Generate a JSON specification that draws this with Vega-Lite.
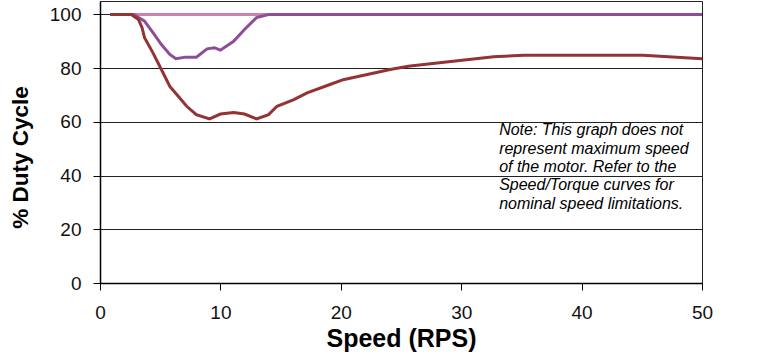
{
  "$schema": "https://vega.github.io/schema/vega-lite/v6.json",
  "width": 602,
  "height": 282,
  "autosize": {"type": "none"},
  "padding": {"left": 100, "top": 1, "right": 69, "bottom": 72},
  "background": "white",
  "config": {
    "view": {"stroke": "#222", "strokeWidth": 1},
    "font": "Liberation Sans"
  },
  "datasets": {
    "curves": [
      {"series": "A", "speed": 0.85, "duty": 100},
      {"series": "A", "speed": 50, "duty": 100},
      {"series": "B", "speed": 0.85, "duty": 100},
      {"series": "B", "speed": 2.8, "duty": 100},
      {"series": "B", "speed": 3.7, "duty": 97.5},
      {"series": "B", "speed": 4.4, "duty": 93.2},
      {"series": "B", "speed": 5.1, "duty": 88.8},
      {"series": "B", "speed": 5.8, "duty": 85.1},
      {"series": "B", "speed": 6.3, "duty": 83.5},
      {"series": "B", "speed": 7.1, "duty": 84.1},
      {"series": "B", "speed": 8.0, "duty": 84.1},
      {"series": "B", "speed": 8.9, "duty": 87.2},
      {"series": "B", "speed": 9.5, "duty": 87.6},
      {"series": "B", "speed": 10.0, "duty": 86.7},
      {"series": "B", "speed": 11.1, "duty": 90.0},
      {"series": "B", "speed": 12.0, "duty": 94.4},
      {"series": "B", "speed": 13.0, "duty": 98.8},
      {"series": "B", "speed": 14.0, "duty": 100},
      {"series": "B", "speed": 35, "duty": 100},
      {"series": "B", "speed": 45, "duty": 100},
      {"series": "B", "speed": 50, "duty": 100},
      {"series": "C", "speed": 0.85, "duty": 100},
      {"series": "C", "speed": 2.6, "duty": 100},
      {"series": "C", "speed": 3.2, "duty": 98.1},
      {"series": "C", "speed": 3.5, "duty": 95.0},
      {"series": "C", "speed": 3.7, "duty": 91.3},
      {"series": "C", "speed": 4.4, "duty": 85.7},
      {"series": "C", "speed": 5.1, "duty": 79.5},
      {"series": "C", "speed": 5.8, "duty": 73.2},
      {"series": "C", "speed": 6.5, "duty": 69.5},
      {"series": "C", "speed": 7.2, "duty": 65.8},
      {"series": "C", "speed": 8.0, "duty": 62.7},
      {"series": "C", "speed": 9.1, "duty": 61.1},
      {"series": "C", "speed": 10.0, "duty": 62.9},
      {"series": "C", "speed": 11.1, "duty": 63.5},
      {"series": "C", "speed": 12.0, "duty": 62.9},
      {"series": "C", "speed": 13.0, "duty": 61.1},
      {"series": "C", "speed": 14.0, "duty": 62.7},
      {"series": "C", "speed": 14.7, "duty": 65.8},
      {"series": "C", "speed": 16.1, "duty": 68.3},
      {"series": "C", "speed": 17.2, "duty": 70.8},
      {"series": "C", "speed": 19.1, "duty": 73.9},
      {"series": "C", "speed": 20.2, "duty": 75.7},
      {"series": "C", "speed": 22.2, "duty": 77.6},
      {"series": "C", "speed": 24.1, "duty": 79.5},
      {"series": "C", "speed": 25.6, "duty": 80.7},
      {"series": "C", "speed": 28.2, "duty": 82.0},
      {"series": "C", "speed": 32.7, "duty": 84.2},
      {"series": "C", "speed": 35.2, "duty": 84.8},
      {"series": "C", "speed": 45.1, "duty": 84.8},
      {"series": "C", "speed": 50, "duty": 83.5}
    ],
    "note": [
      {"speed": 33.15, "duty": 59.8, "label": "Note: This graph does not\nrepresent maximum speed\nof the motor. Refer to the\nSpeed/Torque curves for\nnominal speed limitations."}
    ]
  },
  "layer": [
    {
      "data": {"name": "curves"},
      "transform": [{"filter": "datum.series === 'A'"}],
      "mark": {"type": "line", "color": "#cf80ad", "strokeWidth": 3, "clip": true},
      "encoding": {
        "x": {
          "field": "speed", "type": "quantitative",
          "scale": {"domain": [0, 50], "nice": false, "zero": true},
          "axis": {
            "values": [0, 10, 20, 30, 40, 50],
            "grid": false,
            "domainColor": "#000", "domainWidth": 1.5,
            "tickColor": "#000", "tickSize": 7, "tickWidth": 1,
            "labelFontSize": 19, "labelColor": "#111", "labelPadding": 13,
            "labelFlush": false,
            "title": "Speed (RPS)", "titleFontSize": 25, "titleFontWeight": "bold",
            "titleColor": "#000", "titlePadding": 4
          }
        },
        "y": {
          "field": "duty", "type": "quantitative",
          "scale": {"domain": [0, 105], "nice": false},
          "axis": {
            "values": [0, 20, 40, 60, 80, 100],
            "grid": true, "gridColor": "#222", "gridWidth": 1, "gridOpacity": 1,
            "domainColor": "#000", "domainWidth": 1.5,
            "tickColor": "#000", "tickSize": 7, "tickWidth": 1,
            "labelFontSize": 19, "labelColor": "#111", "labelPadding": 12,
            "title": "% Duty Cycle", "titleFontSize": 22.5, "titleFontWeight": "bold",
            "titleColor": "#000", "titleX": -80, "titleY": 156, "titleBaseline": "middle", "titleAlign": "center", "titleAngle": -90
          }
        }
      }
    },
    {
      "data": {"name": "curves"},
      "transform": [{"filter": "datum.series === 'B'"}],
      "mark": {"type": "line", "color": "#8e4d98", "strokeWidth": 3},
      "encoding": {
        "x": {"field": "speed", "type": "quantitative"},
        "y": {"field": "duty", "type": "quantitative"}
      }
    },
    {
      "data": {"name": "curves"},
      "transform": [{"filter": "datum.series === 'C'"}],
      "mark": {"type": "line", "color": "#943333", "strokeWidth": 3},
      "encoding": {
        "x": {"field": "speed", "type": "quantitative"},
        "y": {"field": "duty", "type": "quantitative"}
      }
    },
    {
      "data": {"name": "note"},
      "mark": {"type": "text", "align": "left", "baseline": "top", "fontStyle": "italic", "fontSize": 16, "lineHeight": 18.3, "lineBreak": "\n", "color": "#000"},
      "encoding": {
        "x": {"field": "speed", "type": "quantitative"},
        "y": {"field": "duty", "type": "quantitative"},
        "text": {"field": "label", "type": "nominal"}
      }
    }
  ]
}
